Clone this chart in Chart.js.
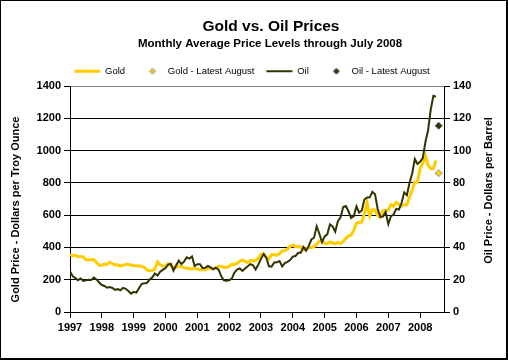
<!DOCTYPE html>
<html><head><meta charset="utf-8">
<script src="https://cdn.jsdelivr.net/npm/chart.js@4.4.1/dist/chart.umd.min.js"></script>
<style>html,body{margin:0;padding:0;background:#fff;}canvas{display:block;}</style>
</head><body>
<canvas id="c" width="508" height="360"></canvas>
<script>
// ---- data (monthly averages, Jan 1997 .. Jul 2008) ----
const yearLabels = ['1997','1998','1999','2000','2001','2002','2003','2004','2005','2006','2007','2008'];
const goldPrices = [
  355,347,352,344,344,341,324,324,323,325,306,289,
  289,297,296,308,299,292,293,284,289,296,294,291,
  287,287,286,282,277,261,256,257,265,311,293,283,
  284,300,286,280,275,285,282,274,273,270,266,272,
  266,262,263,261,272,270,268,273,283,283,276,276,
  282,296,294,302,314,321,314,307,319,317,319,333,
  357,360,340,328,355,356,351,360,379,379,390,407,
  414,405,406,404,384,392,398,400,405,420,439,442,
  424,423,434,429,422,431,424,438,456,470,476,509,
  550,555,557,610,676,596,633,632,598,586,628,629,
  631,665,655,679,667,655,665,665,713,754,806,803,
  889,922,968,909,888,889,939
];
const oilPrices = [
  25.2,22.2,21.0,19.7,20.8,19.2,19.6,19.9,19.8,21.3,20.2,18.3,
  16.7,16.1,15.0,15.4,14.9,13.7,14.2,13.5,15.0,14.4,13.0,11.4,
  12.5,12.0,14.7,17.3,17.8,17.9,20.1,21.3,23.9,22.6,25.0,26.1,
  27.2,29.4,29.9,25.7,28.8,31.8,29.7,31.2,33.9,33.1,34.4,28.5,
  29.6,29.6,27.2,27.4,28.6,27.6,26.4,27.4,26.2,22.2,19.6,19.3,
  19.7,20.7,24.4,26.3,27.0,25.5,26.9,28.4,29.7,28.9,26.3,29.4,
  32.9,35.9,33.6,28.3,28.1,30.7,30.8,31.6,28.3,30.3,31.1,32.2,
  34.3,34.7,36.7,36.7,40.3,38.0,40.8,44.9,46.0,53.1,48.5,43.3,
  46.8,48.1,54.2,53.0,49.8,56.3,58.7,65.0,65.6,62.4,58.3,59.4,
  65.5,61.6,62.9,69.7,70.9,71.0,74.4,73.0,63.8,58.9,59.1,62.0,
  54.5,59.3,60.4,63.9,63.5,67.5,74.1,72.4,79.9,85.8,94.8,91.7,
  93.0,95.4,105.4,112.6,125.4,133.9,133.4
];
const goldLatestAugust = [860];
const oilLatestAugust = [115.4];
const latestMonthIndex = 139;   // Aug 2008 (months since Jan 1997)
const axisMonths = 141;         // category axis runs to Oct 2008

const FONT = "Arial, 'Liberation Sans', sans-serif";
const toPts = arr => arr.map((v, i) => ({x: i, y: v}));

function diamondCanvas(fill, stroke) {
  const c = document.createElement('canvas'); c.width = 14; c.height = 8;
  const g = c.getContext('2d');
  const cx = 9.5, cy = 4, r = 3;
  g.beginPath(); g.moveTo(cx, cy - r); g.lineTo(cx + r, cy); g.lineTo(cx, cy + r); g.lineTo(cx - r, cy); g.closePath();
  g.fillStyle = fill; g.fill(); g.lineWidth = 1; g.strokeStyle = stroke; g.stroke();
  return c;
}
const goldDiamond = diamondCanvas('#FFCC00', '#9090B0');
const oilDiamond = diamondCanvas('#333300', '#555555');

const textPlugin = {
  id: 'texts',
  afterDraw(chart) {
    const ctx = chart.ctx;
    ctx.save();
    ctx.fillStyle = '#000';
    ctx.textAlign = 'center'; ctx.textBaseline = 'middle';
    ctx.font = 'bold 15.5px ' + FONT;
    ctx.fillText('Gold vs. Oil Prices', 271, 26.5);
    ctx.font = 'bold 11.5px ' + FONT;
    ctx.fillText('Monthly Average Price Levels through July 2008', 270, 44);
    ctx.font = 'bold 11px ' + FONT;
    ctx.save(); ctx.translate(16, 209.5); ctx.rotate(-Math.PI / 2);
    ctx.fillText('Gold Price - Dollars per Troy Ounce', 0, 0); ctx.restore();
    ctx.save(); ctx.translate(489, 190.5); ctx.rotate(-Math.PI / 2);
    ctx.fillText('Oil Price - Dollars per Barrel', 0, 0); ctx.restore();
    // frame
    ctx.fillStyle = '#000';
    ctx.fillRect(0, 0, 508, 1); ctx.fillRect(0, 0, 1, 360);
    ctx.fillRect(506, 0, 2, 360); ctx.fillRect(0, 358, 508, 2);
    ctx.restore();
  }
};

new Chart(document.getElementById('c'), {
  type: 'line',
  data: {
    datasets: [
      {label: 'Gold', data: toPts(goldPrices), yAxisID: 'y', borderColor: '#FFCC00', borderWidth: 3,
       pointRadius: 0, tension: 0, order: 3},
      {label: 'Gold - Latest August', data: goldLatestAugust.map(v => ({x: latestMonthIndex, y: v})), yAxisID: 'y',
       showLine: false, pointStyle: 'rectRot', pointRadius: 3.5, backgroundColor: '#FFCC00', borderColor: '#9090B0', borderWidth: 1, order: 2},
      {label: 'Oil', data: toPts(oilPrices), yAxisID: 'y2', borderColor: '#333300', borderWidth: 2,
       pointRadius: 0, tension: 0, order: 1},
      {label: 'Oil - Latest August', data: oilLatestAugust.map(v => ({x: latestMonthIndex, y: v})), yAxisID: 'y2',
       showLine: false, pointStyle: 'rectRot', pointRadius: 3.5, backgroundColor: '#333300', borderColor: '#555555', borderWidth: 1, order: 0}
    ]
  },
  options: {
    responsive: false, animation: false, devicePixelRatio: 1,
    layout: {padding: {top: 48.75, left: 30, right: 34, bottom: 18}},
    plugins: {
      tooltip: {enabled: false},
      title: {display: false},
      legend: {
        display: true, position: 'top',
        labels: {
          usePointStyle: true, pointStyleWidth: 26, padding: 12, color: '#000',
          font: {family: FONT, size: 9.5},
          generateLabels(chart) {
            return [
              {text: 'Gold', pointStyle: 'line', strokeStyle: '#FFCC00', fillStyle: '#FFCC00', lineWidth: 3, datasetIndex: 0, hidden: false, fontColor: '#000'},
              {text: 'Gold - Latest August', pointStyle: goldDiamond, strokeStyle: '#FFCC00', fillStyle: '#FFCC00', lineWidth: 0, datasetIndex: 1, hidden: false, fontColor: '#000'},
              {text: 'Oil', pointStyle: 'line', strokeStyle: '#333300', fillStyle: '#333300', lineWidth: 2, datasetIndex: 2, hidden: false, fontColor: '#000'},
              {text: 'Oil - Latest August', pointStyle: oilDiamond, strokeStyle: '#333300', fillStyle: '#333300', lineWidth: 0, datasetIndex: 3, hidden: false, fontColor: '#000'}
            ];
          }
        }
      }
    },
    scales: {
      x: {
        type: 'linear', min: 0, max: axisMonths,
        afterBuildTicks(s) { s.ticks = yearLabels.map((l, i) => ({value: i * 12})); },
        afterFit(s) { s.height = 30; },
        ticks: {autoSkip: false, maxRotation: 0, padding: 3, color: '#000',
                font: {family: FONT, size: 11, weight: 'bold'},
                callback: (v, i) => yearLabels[i]},
        grid: {drawOnChartArea: false, drawTicks: true, tickLength: 6, color: '#000'},
        border: {color: '#000', width: 1}
      },
      y: {
        position: 'left', min: 0, max: 1400,
        afterFit(s) { s.width = 40; s.paddingTop = 86; },
        ticks: {stepSize: 200, padding: 3, color: '#000', font: {family: FONT, size: 11, weight: 'bold'},
                callback: v => String(v)},
        grid: {color: c => (c.tick && c.tick.value === 1400) ? '#808080' : '#000', tickColor: '#000', tickLength: 6},
        border: {color: '#000', width: 1}
      },
      y2: {
        position: 'right', min: 0, max: 140,
        afterFit(s) { s.width = 30; },
        ticks: {stepSize: 20, padding: 3, color: '#000', font: {family: FONT, size: 11, weight: 'bold'},
                callback: v => String(v)},
        grid: {drawOnChartArea: false, color: '#000', tickLength: 6},
        border: {color: '#000', width: 1}
      }
    }
  },
  plugins: [textPlugin]
});
</script>
</body></html>
